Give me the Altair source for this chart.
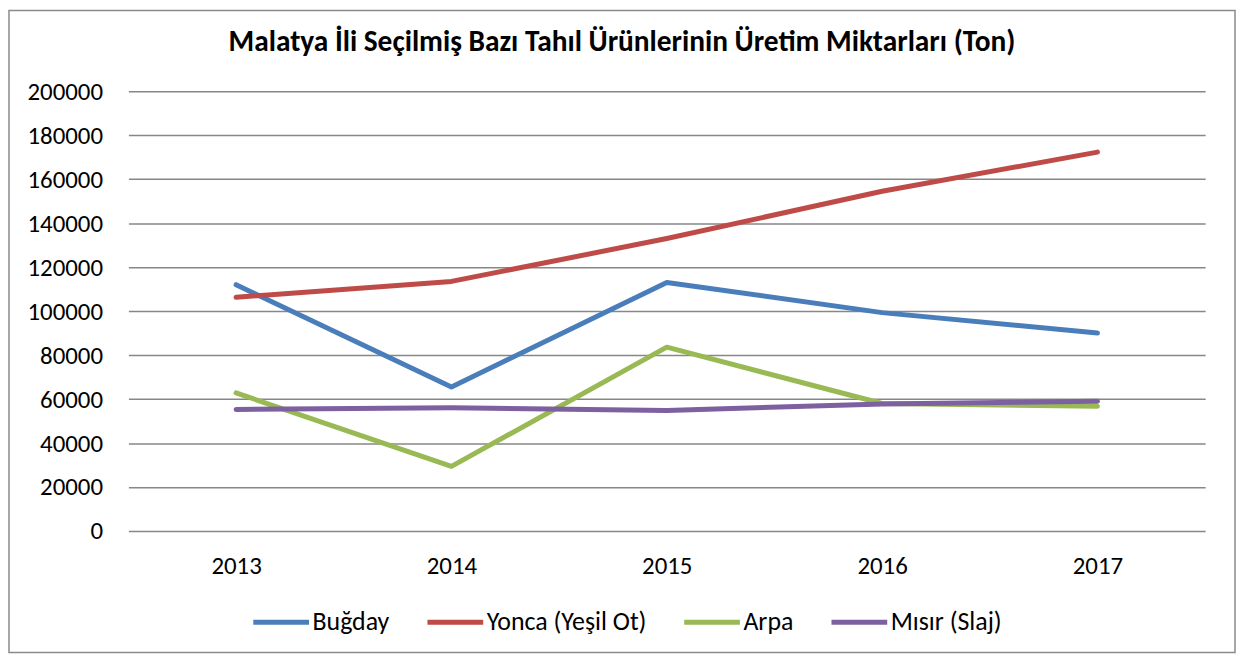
import altair as alt
import pandas as pd

years = ["2013", "2014", "2015", "2016", "2017"]
series_names = ["Buğday", "Yonca (Yeşil Ot)", "Arpa", "Mısır (Slaj)"]
bugday = [112000, 65500, 113000, 99300, 90000]
yonca = [106300, 113500, 133000, 154500, 172300]
arpa = [62800, 29400, 83600, 58000, 56700]
misir = [55300, 56100, 54800, 57800, 59000]
colors = ["#4A7EBB", "#BE4B48", "#98B954", "#7D60A0"]
y_ticks = list(range(0, 200001, 20000))
title_text = "Malatya İli Seçilmiş Bazı Tahıl Ürünlerinin Üretim Miktarları (Ton)"

rows = []
for name, vals in zip(series_names, [bugday, yonca, arpa, misir]):
    for yr, v in zip(years, vals):
        rows.append({"Yıl": yr, "Seri": name, "Değer": v, "ord": series_names.index(name)})
df = pd.DataFrame(rows)

FONT = "Carlito, Lato, sans-serif"
W, H = 1082, 442

lines = alt.Chart(df).mark_line(strokeWidth=5, strokeCap="round", strokeJoin="round").encode(
    x=alt.X("Yıl:O", sort=years, scale=alt.Scale(type="point", padding=0.5),
            axis=alt.Axis(title=None, labelAngle=0, domain=False, ticks=False,
                          labelPadding=23, labelFontSize=25, labelFont=FONT,
                          labelColor="#000000", grid=False)),
    y=alt.Y("Değer:Q", scale=alt.Scale(domain=[0, 200000], nice=False),
            axis=alt.Axis(title=None, values=y_ticks, format="d", domain=False, ticks=False,
                          labelPadding=26, labelFontSize=25, labelFont=FONT,
                          labelColor="#000000", grid=True, gridColor="#878787",
                          gridWidth=1.5)),
    color=alt.Color("Seri:N", sort=series_names,
                    scale=alt.Scale(domain=series_names, range=colors),
                    legend=alt.Legend(title=None, orient="none", direction="horizontal",
                                      legendX=123, legendY=503, symbolType="stroke",
                                      symbolSize=3136, symbolStrokeWidth=5,
                                      labelFontSize=26, labelFont=FONT, labelColor="#000000",
                                      labelLimit=400, columnPadding=27, labelOffset=1)),
    order=alt.Order("ord:Q"),
    detail="Seri:N",
)

border = alt.Chart(pd.DataFrame({"a": [0]})).mark_rect(
    fill=None, stroke="#8a8a8a", strokeWidth=1.5
).encode(
    x=alt.value(-120), x2=alt.value(W + 30),
    y=alt.value(-81), y2=alt.value(H + 122),
)

title = alt.Chart(pd.DataFrame({"t": [title_text]})).mark_text(
    font=FONT, fontSize=29.5, fontWeight="bold", color="#000000",
    align="center", baseline="alphabetic"
).encode(
    text="t:N", x=alt.value(W / 2 - 45), y=alt.value(-40),
)

chart = alt.layer(border, lines, title).properties(
    width=W, height=H, padding=0,
).configure_view(stroke=None)

chart.save("out.html", embed_options={"renderer": "svg", "actions": False})
